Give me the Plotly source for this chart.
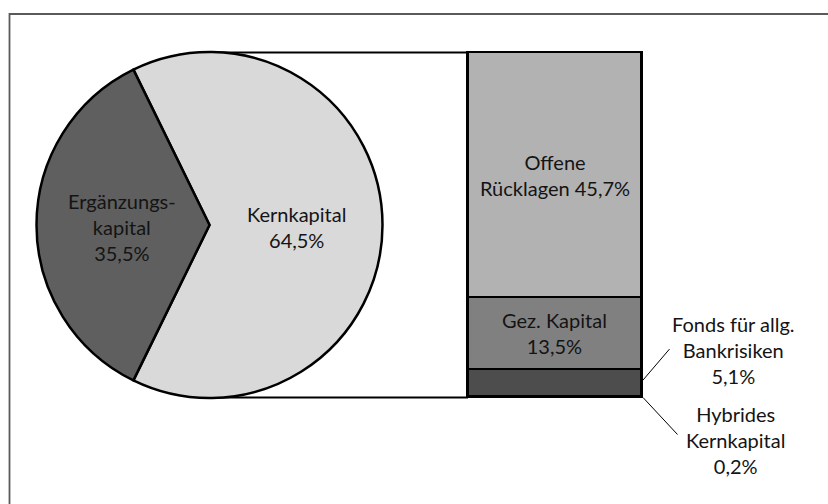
import plotly.graph_objects as go

# ---- data ----
pie_labels = ["Kernkapital", "Ergänzungs-<br>kapital"]
pie_values = [64.5, 35.5]
pie_colors = ["#d9d9d9", "#5f5f5f"]

bar_labels = ["Hybrides<br>Kernkapital", "Fonds für allg.<br>Bankrisiken", "Gez. Kapital", "Offene<br>Rücklagen"]
bar_values = [0.2, 5.1, 13.5, 45.7]
bar_colors = ["#1c1c1c", "#4d4d4d", "#808080", "#b2b2b2"]

W, H = 828, 504
FONT = "Lato"
FS = 20
TXT = "#141414"


def px(x):
    return x / W


def py(y):
    return 1 - y / H


def pct(v):
    return f"{v:.1f}".replace(".", ",") + "%"


# pie geometry (pixels)
cx, cy, r = 209.5, 225, 173
total = sum(pie_values)
rotation = 270 - (360 * pie_values[0] / total + 360 * pie_values[1] / total / 2)

# bar geometry (pixels)
bx0, bx1 = 468, 641.5
btop, bbot = 52.5, 397.5
kern = sum(bar_values)
ppu_x = bx1 - bx0
ppu_y = (bbot - btop) / kern
padx, pady = 0.03, 1.0


def bar_y(v):
    return bbot - v * ppu_y


fig = go.Figure()

fig.add_trace(go.Pie(
    labels=pie_labels, values=pie_values, sort=False, direction="clockwise",
    rotation=rotation, textinfo="none", hoverinfo="skip", showlegend=False,
    marker=dict(colors=pie_colors, line=dict(color="#000000", width=2.5)),
    domain=dict(x=[px(cx - r), px(cx + r)], y=[py(cy + r), py(cy - r)]),
))

for lab, v, c in zip(bar_labels, bar_values, bar_colors):
    fig.add_trace(go.Bar(
        x=[0], y=[v], width=1, name=lab, showlegend=False, hoverinfo="skip",
        marker=dict(color=c, line=dict(color="#000000", width=2.5)),
    ))

fig.update_layout(
    width=W, height=H, margin=dict(l=0, r=0, t=0, b=0),
    paper_bgcolor="white", plot_bgcolor="rgba(0,0,0,0)",
    barmode="stack", bargap=0,
    xaxis=dict(visible=False, range=[-0.5 - padx, 0.5 + padx], fixedrange=True,
               domain=[px(bx0 - padx * ppu_x), px(bx1 + padx * ppu_x)]),
    yaxis=dict(visible=False, range=[-pady, kern + pady], fixedrange=True,
               domain=[py(bbot + pady * ppu_y), py(btop - pady * ppu_y)]),
    font=dict(family=FONT, size=FS, color=TXT),
)

shapes = []
# outer frame (only top/left visible in view)
shapes.append(dict(type="rect", xref="paper", yref="paper",
                   x0=px(9.5), x1=px(W + 10), y0=py(14), y1=py(H + 10),
                   line=dict(color="#5a5a5a", width=1.8), layer="below"))
# connector lines pie -> bar
for yv in [kern, 0]:
    shapes.append(dict(type="line", xref="paper", yref="paper",
                       x0=px(cx), x1=px(bx0), y0=py(bar_y(yv)), y1=py(bar_y(yv)),
                       line=dict(color="#000000", width=1.8), layer="below"))
# leader lines for small segments
fonds_mid = bar_values[0] + bar_values[1] * 0.6
shapes.append(dict(type="line", xref="paper", yref="paper",
                   x0=px(bx1 + 1.5), x1=px(bx1 + 28),
                   y0=py(bar_y(fonds_mid)), y1=py(bar_y(fonds_mid) - 31),
                   line=dict(color="#000000", width=1)))
shapes.append(dict(type="line", xref="paper", yref="paper",
                   x0=px(bx1 + 1.5), x1=px(bx1 + 36),
                   y0=py(bar_y(0)), y1=py(bar_y(0) + 37),
                   line=dict(color="#000000", width=1)))
fig.update_layout(shapes=shapes)

ann = []
# pie labels
ann.append(dict(xref="paper", yref="paper", x=px(296), y=py(227),
                text=f"{pie_labels[0]}<br>{pct(pie_values[0])}"))
ann.append(dict(xref="paper", yref="paper", x=px(122), y=py(227),
                text=f"{pie_labels[1]}<br>{pct(pie_values[1])}"))
# bar labels inside
cum = 0
mids = []
for v in bar_values:
    mids.append(cum + v / 2)
    cum += v
ann.append(dict(xref="x", yref="y", x=0, y=mids[3],
                text=f"{bar_labels[3]} {pct(bar_values[3])}"))
ann.append(dict(xref="x", yref="y", x=0, y=mids[2],
                text=f"{bar_labels[2]}<br>{pct(bar_values[2])}"))
# outside labels
ann.append(dict(xref="paper", yref="paper", x=px(733), y=py(350),
                text=f"{bar_labels[1]}<br>{pct(bar_values[1])}"))
ann.append(dict(xref="paper", yref="paper", x=px(735), y=py(440),
                text=f"{bar_labels[0]}<br>{pct(bar_values[0])}"))
for a in ann:
    a.update(showarrow=False, xanchor="center", yanchor="middle", align="center",
             font=dict(family=FONT, size=FS, color=TXT))
fig.update_layout(annotations=ann)

fig.write_html("out.html")
